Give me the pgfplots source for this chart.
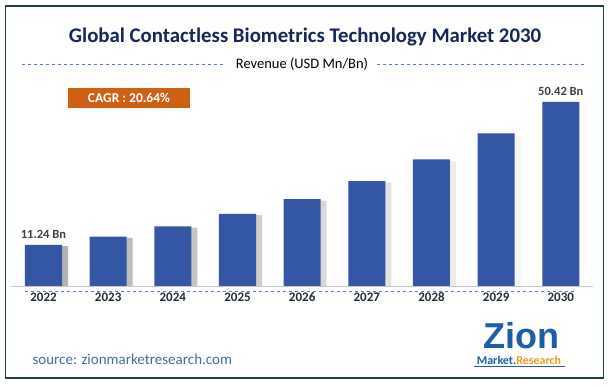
\documentclass[border=0pt]{standalone}
\usepackage{pgfplots}
\pgfplotsset{compat=1.18}
\usepackage{fontspec}
\setmainfont{Carlito}
\definecolor{barblue}{HTML}{3356A5}
\definecolor{titlenavy}{HTML}{15275A}
\definecolor{frame}{HTML}{1E4434}
\definecolor{dashblue}{HTML}{4F7BC8}
\definecolor{cagr}{HTML}{CF5F12}
\definecolor{src}{HTML}{3F6FA8}
\definecolor{zblue}{HTML}{1D5EA8}
\definecolor{zorange}{HTML}{F39A1E}
\definecolor{ticklab}{HTML}{1F2E3A}
\begin{document}
\begin{tikzpicture}[x=1pt,y=1pt]
\fill[white] (0,0) rectangle (609,385);
\draw[frame, line width=1.4pt] (5.5,7) rectangle (603.5,379);
\node[font=\fontsize{20.8}{23}\selectfont\bfseries, text=titlenavy] at (305,348) {Global Contactless Biometrics Technology Market 2030};
\node[font=\fontsize{14.5}{16}\selectfont, inner sep=0pt] (sub) at (302,321) {Revenue (USD Mn/Bn)};
\draw[dashblue, dashed, line width=0.8pt] (22,321) -- (225,321);
\draw[dashblue, dashed, line width=0.8pt] (377,321) -- (584,321);
\fill[cagr] (68,277) rectangle (190,297);
\node[text=white, font=\fontsize{13.5}{15}\selectfont\bfseries] at (129,287) {CAGR : 20.64\%};
\begin{axis}[
  at={(43.5pt,99pt)}, anchor=origin,
  scale only axis, width=582pt, height=219pt,
  xmin=-0.5, xmax=8.5, ymin=0, ymax=60,
  axis x line*=bottom, axis y line=none,
  x axis line style={draw=gray!45, line width=0.8pt, -},
  xtick={0,...,8},
  xticklabels={2022,2023,2024,2025,2026,2027,2028,2029,2030},
  xticklabel style={font=\fontsize{13}{15}\selectfont\bfseries, text=ticklab, yshift=-3pt},
  major tick length=0pt,
  clip=false,
]
\addplot[ybar, bar width=9pt, bar shift=20pt, draw=none, left color=gray!60, right color=white]
  coordinates {(0,10.9) (1,13.2) (2,16.0) (3,19.4) (4,23.4) (5,28.3) (6,34.2) (7,41.3) (8,49.9)};
\addplot[ybar, bar width=37pt, fill=barblue, draw=none]
  coordinates {(0,11.24) (1,13.56) (2,16.36) (3,19.74) (4,23.81) (5,28.73) (6,34.66) (7,41.81) (8,50.42)};
\node[above, font=\fontsize{12.5}{14}\selectfont\bfseries, text=black!75, yshift=3pt] at (axis cs:0,11.24) {11.24 Bn};
\node[above, font=\fontsize{12.5}{14}\selectfont\bfseries, text=black!75, yshift=3pt] at (axis cs:8,50.42) {50.42 Bn};
\end{axis}
\draw[dashblue, dashed, line width=0.8pt] (25,94) -- (576,94);
\node[anchor=west, text=src, font=\fontsize{15}{17}\selectfont] at (29,26) {source: zionmarketresearch.com};
\node[anchor=south, text=zblue, font={\fontspec{Liberation Sans}\fontsize{36}{36}\selectfont\bfseries}, inner sep=0pt] at (521,36) {Zion};
\node[anchor=south, font=\fontsize{12}{13}\selectfont\bfseries, inner sep=0pt] at (519,20) {\textcolor{zblue}{Market.}\textcolor{zorange}{Research}};
\draw[zblue, line width=0.6pt] (474,19) -- (565,19);
\end{tikzpicture}
\end{document}
